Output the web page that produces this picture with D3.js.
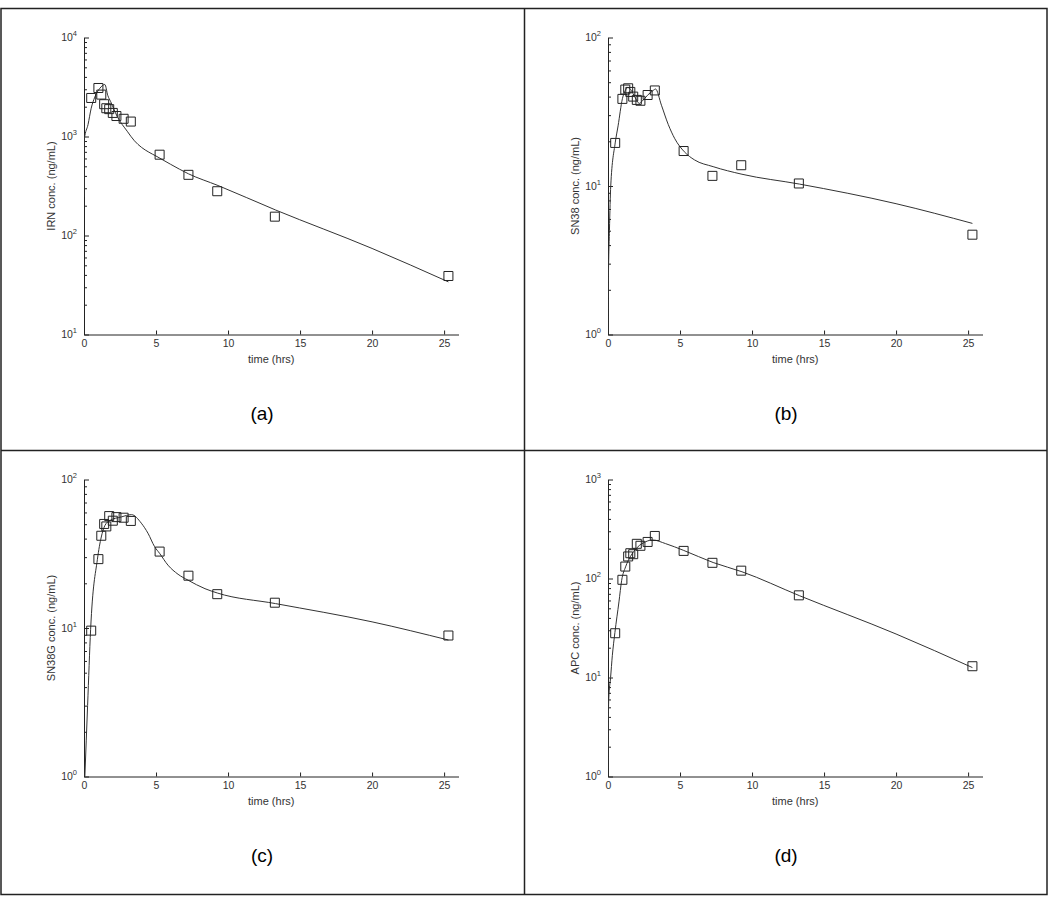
<!DOCTYPE html>
<html lang="en">
<head>
<meta charset="UTF-8">
<title>IRN / SN38 / SN38G / APC concentration-time fits</title>
<style>
  body { margin: 0; background: #fff; }
  svg { display: block; font-family: "Liberation Sans", Arial, sans-serif; }
</style>
</head>
<body>
<script src="https://cdn.jsdelivr.net/npm/d3@7/dist/d3.min.js"></script>
<script>
// sampling times (hrs), same for every panel
const sampleTimes = [0.5, 1.0, 1.2, 1.4, 1.55, 1.75, 2.0, 2.25, 2.75, 3.25, 5.25, 7.25, 9.25, 13.25, 25.3];
const timeTicks = [0, 5, 10, 15, 20, 25];

// observed concentrations (ng/mL)
const irnObs   = [2450, 3090, 2650, 2120, 1930, 1890, 1730, 1610, 1510, 1415, 655, 410, 280, 155, 39];
const sn38Obs  = [19.5, 38.6, 44.6, 45.5, 43, 40, 38, 37.5, 41, 44, 17.2, 11.7, 13.8, 10.4, 4.7];
const sn38gObs = [9.6, 29.1, 41.8, 50.2, 48.3, 56.7, 52.8, 55.8, 55.3, 52.6, 32.7, 22.5, 16.9, 14.8, 8.9];
const apcObs   = [28, 97, 132, 167, 180, 176, 224, 214, 234, 269, 190, 144, 120, 67.6, 13.0];

// model fit curves
const irnFitT   = [0, 0.03, 0.28, 0.5, 0.75, 1.1, 1.45, 1.65, 1.85, 2.3, 3.0, 3.5, 4.0, 4.5, 5.0, 6.0, 7.25, 9.3, 13.3, 20, 25.3];
const irnFit    = [245, 950, 1320, 1930, 2500, 3070, 3350, 2600, 2250, 1600, 1130, 905, 775, 695, 635, 525, 420, 320, 181, 74, 34];
const sn38FitT  = [0, 0.02, 0.1, 0.19, 0.5, 0.7, 1.0, 1.2, 1.38, 1.62, 1.86, 2.18, 2.34, 2.74, 3.15, 3.3, 3.71, 4.18, 4.64, 5.3, 6.0, 7.3, 9.3, 13.3, 20, 25.3];
const sn38Fit   = [1.0, 2.0, 5, 10, 19.5, 25.4, 38.7, 44, 46, 44, 39.8, 36, 37, 40.8, 44.1, 45, 35, 26, 20.8, 17, 15, 13.5, 12, 10.3, 7.6, 5.6];
const sn38gFitT = [0.06, 0.25, 0.46, 0.93, 1.2, 1.45, 1.8, 2.6, 3.3, 3.98, 4.44, 4.9, 5.25, 5.83, 6.53, 7.22, 8.4, 9.26, 13.3, 20, 25.3];
const sn38gFit  = [1.0, 3.0, 9.8, 29, 41, 49, 53, 56, 58, 50.8, 43.5, 35.3, 31.8, 26.5, 23, 21, 18.4, 17.2, 14.6, 11.0, 8.3];
const apcFitT   = [0, 0.05, 0.18, 0.3, 0.48, 0.76, 0.95, 1.22, 1.57, 2.03, 2.61, 3.1, 4.0, 5.26, 7.3, 9.3, 13.3, 20, 25.3];
const apcFit    = [1.0, 6, 10, 16.6, 28.5, 58, 96, 131, 168, 206, 235, 245, 225, 192, 145, 117, 67, 27.5, 12.6];

const panels = [
  { tag: 'a', ylabel: 'IRN conc. (ng/mL)',   obs: irnObs,   fitT: irnFitT,   fit: irnFit,   decades: [1, 4], col: 0, row: 0 },
  { tag: 'b', ylabel: 'SN38 conc. (ng/mL)',  obs: sn38Obs,  fitT: sn38FitT,  fit: sn38Fit,  decades: [0, 2], col: 1, row: 0 },
  { tag: 'c', ylabel: 'SN38G conc. (ng/mL)', obs: sn38gObs, fitT: sn38gFitT, fit: sn38gFit, decades: [0, 2], col: 0, row: 1 },
  { tag: 'd', ylabel: 'APC conc. (ng/mL)',   obs: apcObs,   fitT: apcFitT,   fit: apcFit,   decades: [0, 3], col: 1, row: 1 },
];

const FONT = '"Liberation Sans", Arial, sans-serif';
const ink = '#222';
const m = { left: 84, right: 458.5, top: 29.5, bottom: 326.5 }; // inside each cell

const svg = d3.select('body').append('svg').attr('width', 1050).attr('height', 901);

// frame + dividers
svg.append('rect').attr('x', 1).attr('y', 8.5).attr('width', 1046).attr('height', 886)
  .attr('fill', 'none').attr('stroke', ink).attr('stroke-width', 1.5);
svg.append('line').attr('x1', 524.5).attr('x2', 524.5).attr('y1', 8).attr('y2', 895).attr('stroke', ink).attr('stroke-width', 1.5);
svg.append('line').attr('x1', 1).attr('x2', 1047).attr('y1', 450.5).attr('y2', 450.5).attr('stroke', ink).attr('stroke-width', 1.5);

function styleAxis(sel) {
  sel.attr('font-family', FONT).attr('font-size', 10.5);
  sel.selectAll('.domain, .tick line').attr('stroke', ink);
  sel.selectAll('.tick text').attr('fill', '#333');
}

panels.forEach((p, i) => {
  const ox = p.col * 524, oy = p.row ? 450 : 8;
  const g = svg.append('g').attr('transform', `translate(${ox},${oy})`);

  const x = d3.scaleLinear().domain([0, 26]).range([m.left, m.right]);
  const y = d3.scaleLog().domain([10 ** p.decades[0], 10 ** p.decades[1]]).range([m.bottom, m.top]);

  // minor log ticks (inward)
  const minor = d3.range(p.decades[0], p.decades[1]).flatMap(e => d3.range(2, 10).map(k => k * 10 ** e));
  const mg = g.append('g').attr('transform', `translate(${m.left},0)`)
    .call(d3.axisLeft(y).tickValues(minor).tickSizeInner(-3).tickSizeOuter(0).tickFormat(''));
  mg.select('.domain').remove();
  styleAxis(mg);

  // major y ticks: 10^n
  const majors = d3.range(p.decades[0], p.decades[1] + 1).map(e => 10 ** e);
  const yg = g.append('g').attr('transform', `translate(${m.left},0)`)
    .call(d3.axisLeft(y).tickValues(majors).tickSizeInner(-5).tickSizeOuter(0).tickPadding(7).tickFormat(() => '10'));
  yg.selectAll('.tick text').append('tspan')
    .attr('dy', -5).attr('font-size', 7.5)
    .text(d => Math.round(Math.log10(d)));
  styleAxis(yg);

  // x axis
  const xg = g.append('g').attr('transform', `translate(0,${m.bottom})`)
    .call(d3.axisBottom(x).tickValues(timeTicks).tickSizeInner(-4).tickSizeOuter(0).tickPadding(5));
  styleAxis(xg);

  // axis titles
  g.append('text').attr('x', (m.left + m.right) / 2).attr('y', m.bottom + 28)
    .attr('text-anchor', 'middle').attr('font-size', 11).attr('fill', '#333').text('time (hrs)');
  g.append('text').attr('transform', `translate(54.5,${(m.top + m.bottom) / 2}) rotate(-90)`)
    .attr('text-anchor', 'middle').attr('font-size', 11).attr('fill', '#333').text(p.ylabel);

  // clip
  g.append('clipPath').attr('id', 'clip' + i).append('rect')
    .attr('x', m.left).attr('y', m.top).attr('width', m.right - m.left).attr('height', m.bottom - m.top);

  // fitted curve
  const line = d3.line().x(d => x(d[0])).y(d => y(d[1])).curve(d3.curveMonotoneX);
  g.append('path').datum(d3.zip(p.fitT, p.fit))
    .attr('clip-path', `url(#clip${i})`)
    .attr('d', line).attr('fill', 'none').attr('stroke', '#333').attr('stroke-width', 1);

  // observations
  g.selectAll('path.obs').data(d3.zip(sampleTimes, p.obs)).join('path')
    .attr('class', 'obs')
    .attr('transform', d => `translate(${x(d[0])},${y(d[1])})`)
    .attr('d', d3.symbol(d3.symbolSquare, 81))
    .attr('fill', 'none').attr('stroke', ink).attr('stroke-width', 1);

  // panel tag
  g.append('text').attr('x', 262).attr('y', 412).attr('text-anchor', 'middle')
    .attr('font-size', 19).attr('fill', '#000').text(`(${p.tag})`);
});
</script>
</body>
</html>
